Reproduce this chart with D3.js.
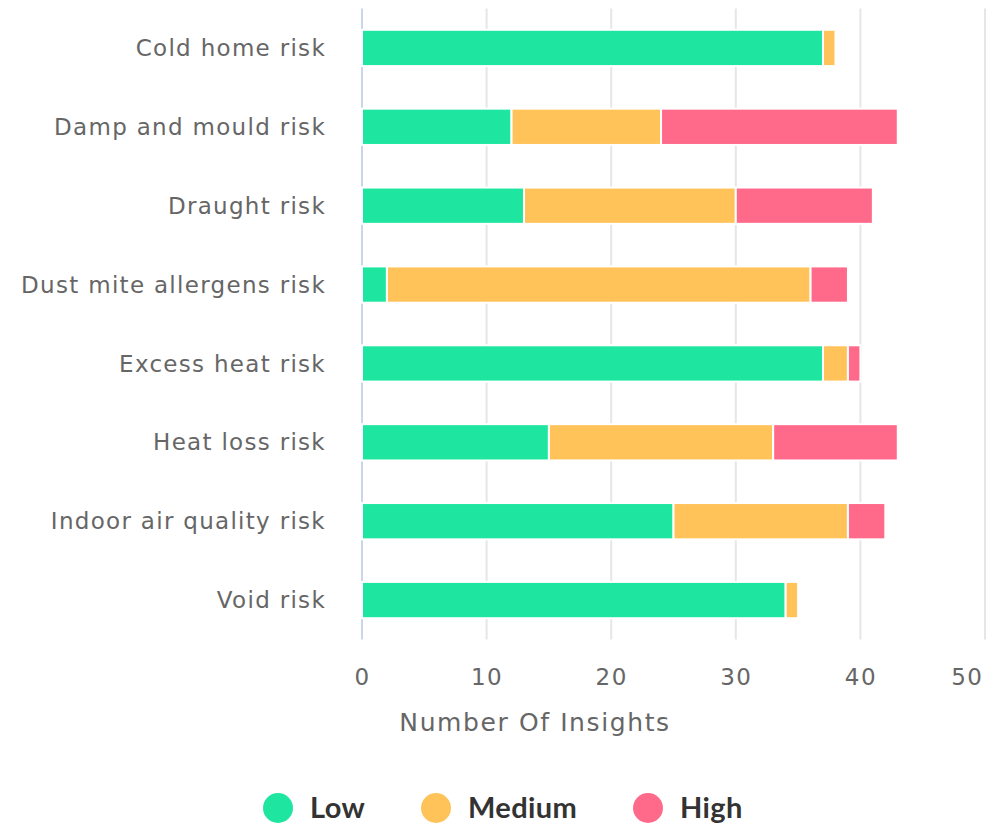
<!DOCTYPE html>
<html>
<head>
<meta charset="utf-8">
<script src="https://cdn.jsdelivr.net/npm/d3@7"></script>
<style>
  html, body { margin: 0; padding: 0; background: #fff; }
  svg { display: block; }
</style>
</head>
<body>
<svg id="chart" width="990" height="827"></svg>
<script>
// Risk categories and the count of insights at each level
const categories = [
  "Cold home risk",
  "Damp and mould risk",
  "Draught risk",
  "Dust mite allergens risk",
  "Excess heat risk",
  "Heat loss risk",
  "Indoor air quality risk",
  "Void risk"
];
const lowValues    = [37, 12, 13, 2, 37, 15, 25, 34];
const mediumValues = [1, 12, 17, 34, 2, 18, 14, 1];
const highValues   = [0, 19, 11, 3, 1, 10, 3, 0];
const seriesNames  = ["Low", "Medium", "High"];
const seriesColors = ["#1ee6a0", "#ffc35a", "#ff6a8a"];
const xTicks = [0, 10, 20, 30, 40, 50];
const xTitle = "Number Of Insights";

const svg = d3.select("#chart");
const plot = { left: 362, right: 985, top: 8.5, bottom: 639.5 };

const x = d3.scaleLinear().domain([0, 50]).range([plot.left, plot.right]);
const y = d3.scaleBand().domain(categories).range([plot.top, plot.bottom]).paddingInner(0.54).paddingOuter(0.27);

const labelFont = "'DejaVu Sans', Verdana, sans-serif";

// vertical gridlines
svg.append("g").selectAll("line").data(xTicks.filter(t => t !== 0)).join("line")
  .attr("x1", d => x(d)).attr("x2", d => x(d))
  .attr("y1", plot.top).attr("y2", plot.bottom)
  .attr("stroke", "#e6e6e6").attr("stroke-width", 2);

// baseline at zero
svg.append("line")
  .attr("x1", x(0)).attr("x2", x(0))
  .attr("y1", plot.top).attr("y2", plot.bottom)
  .attr("stroke", "#ccd6eb").attr("stroke-width", 2);

// stacked bars
const rows = categories.map((c, i) => ({ category: c, Low: lowValues[i], Medium: mediumValues[i], High: highValues[i] }));
const stacked = d3.stack().keys(seriesNames)(rows);

svg.append("g").selectAll("g").data(stacked).join("g")
  .attr("fill", (d, i) => seriesColors[i])
  .selectAll("rect").data(d => d.filter(s => s[1] - s[0] > 0)).join("rect")
  .attr("x", d => x(d[0]))
  .attr("width", d => x(d[1]) - x(d[0]))
  .attr("y", d => y(d.data.category))
  .attr("height", y.bandwidth())
  .attr("stroke", "#fff").attr("stroke-width", 2);

// category labels
const yAxis = d3.axisLeft(y).tickSize(0).tickPadding(0);
const yg = svg.append("g").attr("transform", `translate(${plot.left - 36},0)`).call(yAxis);
yg.select(".domain").remove();
yg.selectAll("text")
  .attr("font-family", labelFont).attr("font-size", 23).attr("fill", "#666")
  .attr("letter-spacing", 1.3)
  .attr("dy", "0.35em");

// value axis
const xAxis = d3.axisBottom(x).tickValues(xTicks).tickSize(0).tickPadding(0);
const xg = svg.append("g").attr("transform", `translate(0,685)`).call(xAxis);
xg.select(".domain").remove();
xg.selectAll("text")
  .attr("font-family", labelFont).attr("font-size", 23).attr("fill", "#666")
  .attr("letter-spacing", 1.5)
  .attr("dy", 0);
// keep the last tick label inside the chart edge
xg.selectAll(".tick").filter(d => d === 50).select("text")
  .attr("text-anchor", "end").attr("x", -2);

svg.append("text")
  .attr("x", 535).attr("y", 731)
  .attr("text-anchor", "middle")
  .attr("font-family", labelFont).attr("font-size", 25).attr("fill", "#666")
  .attr("letter-spacing", 1.6)
  .text(xTitle);

// legend
const legendX = [278, 436, 648];
const legend = svg.append("g").selectAll("g").data(seriesNames).join("g")
  .attr("transform", (d, i) => `translate(${legendX[i]},808)`);
legend.append("circle").attr("r", 15).attr("fill", (d, i) => seriesColors[i]);
legend.append("text")
  .attr("x", 32).attr("dy", "0.36em")
  .attr("font-family", "Lato, sans-serif").attr("font-weight", 700)
  .attr("font-size", 29).attr("fill", "#333")
  .attr("letter-spacing", 0.4)
  .text(d => d);
</script>
</body>
</html>
